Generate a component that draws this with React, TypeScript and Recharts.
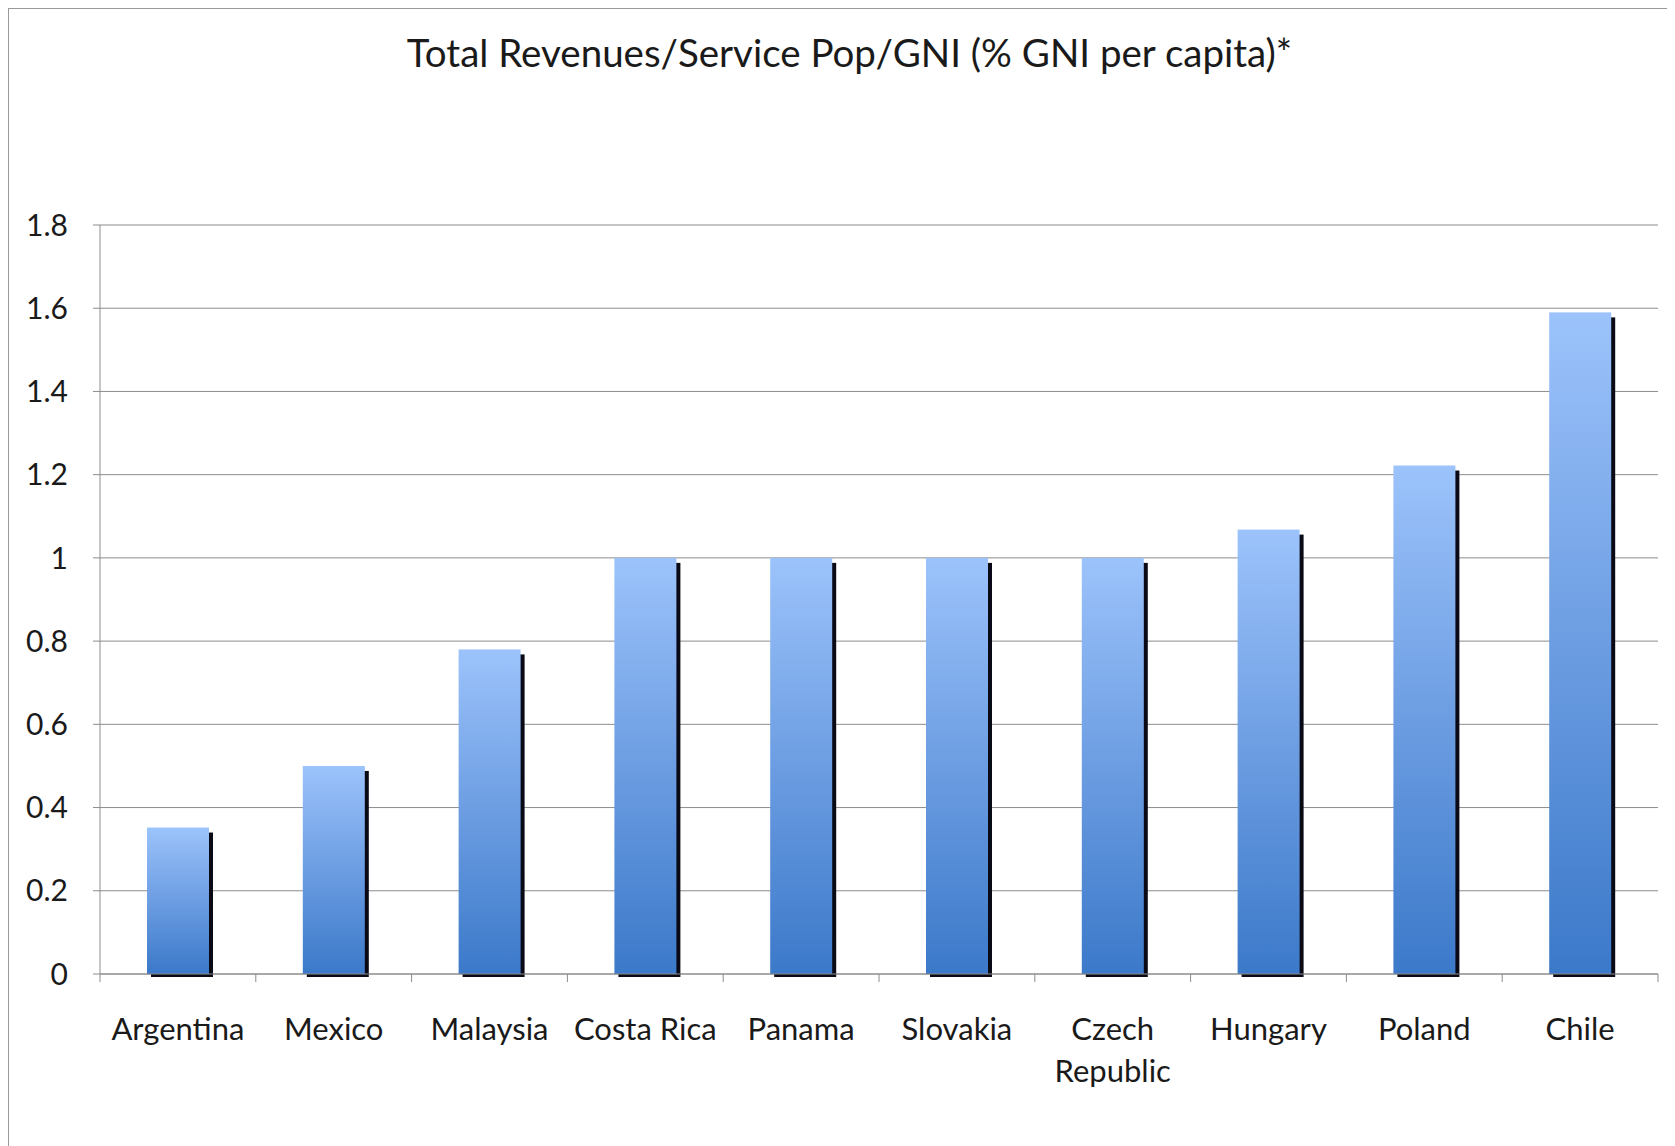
import React from 'react';
import { BarChart, Bar, XAxis, YAxis, CartesianGrid } from 'recharts';

const categories = ['Argentina', 'Mexico', 'Malaysia', 'Costa Rica', 'Panama', 'Slovakia', 'Czech Republic', 'Hungary', 'Poland', 'Chile'];
const values = [0.352, 0.5, 0.78, 1.0, 1.0, 1.0, 1.0, 1.068, 1.222, 1.59];
const labelLines: Record<string, string[]> = {
  'Czech Republic': ['Czech', 'Republic'],
};
const yTicks = [0, 0.2, 0.4, 0.6, 0.8, 1, 1.2, 1.4, 1.6, 1.8];
const title = 'Total Revenues/Service Pop/GNI (% GNI per capita)*';

const data = categories.map((c, i) => ({ name: c, value: values[i] }));

const W = 1666;
const H = 1137;
const X_H = 172;
const M = { top: 216, right: 17, bottom: 0, left: 0 };
const Y_W = 91;
const FONT = 'Lato, "Open Sans", sans-serif';
const GRID = '#8c8c8c';

const ShadowBar = (props: any) => {
  const { x, y, width, height } = props;
  if (height == null || height <= 0) return null;
  return (
    <g>
      <rect x={x + 4} y={y + 5} width={width} height={height - 2} fill="#0a0a16" />
      <rect x={x} y={y} width={width} height={height} fill="url(#barGrad)" />
    </g>
  );
};

const XTick = (props: any) => {
  const { x, y, payload, index, visibleTicksCount } = props;
  const plotW = W - Y_W - M.left - M.right;
  const band = plotW / categories.length;
  const lines = labelLines[payload.value] || [payload.value];
  const isLast = index === (visibleTicksCount ?? categories.length) - 1;
  return (
    <g>
      <line x1={x - band / 2} x2={x - band / 2} y1={y - 8} y2={y} stroke={GRID} strokeWidth={1} />
      {isLast && <line x1={x + band / 2} x2={x + band / 2} y1={y - 8} y2={y} stroke={GRID} strokeWidth={1} />}
      <text x={x} y={y + 58} textAnchor="middle" fontFamily={FONT} fontSize={31} fill="#1a1a1a">
        {lines.map((l: string, i: number) => (
          <tspan key={i} x={x} dy={i === 0 ? 0 : 42}>{l}</tspan>
        ))}
      </text>
    </g>
  );
};

export default function App() {
  return (
    <div
      style={{
        position: 'relative',
        width: W,
        height: H,
        borderLeft: '1px solid #999',
        borderTop: '1px solid #999',
        background: '#fff',
      }}
    >
      <div
        style={{
          position: 'absolute',
          left: 0,
          top: 20,
          width: W + 15,
          textAlign: 'center',
          fontFamily: FONT,
          fontSize: 38.5,
          color: '#1a1a1a',
          whiteSpace: 'nowrap',
        }}
      >
        {title}
      </div>
      <BarChart width={W} height={H} data={data} margin={M} barSize={62}>
        <defs>
          <linearGradient id="barGrad" x1="0" y1="0" x2="0" y2="1">
            <stop offset="0%" stopColor="#9CC3FB" />
            <stop offset="50%" stopColor="#6C9DE2" />
            <stop offset="100%" stopColor="#3B79C9" />
          </linearGradient>
        </defs>
        <CartesianGrid vertical={false} stroke={GRID} strokeWidth={1} />
        <XAxis
          dataKey="name"
          axisLine={{ stroke: GRID, strokeWidth: 1 }}
          tickLine={false}
          tick={<XTick />}
          interval={0}
          height={X_H}
        />
        <YAxis
          width={Y_W}
          domain={[0, 1.8]}
          ticks={yTicks}
          axisLine={{ stroke: GRID, strokeWidth: 1 }}
          tickLine={{ stroke: GRID, strokeWidth: 1 }}
          tickSize={7}
          tickMargin={25}
          tick={{ fontFamily: FONT, fontSize: 30, fill: '#1a1a1a' }}
          tickFormatter={(v: number) => String(v)}
        />
        <Bar dataKey="value" shape={<ShadowBar />} isAnimationActive={false} />
      </BarChart>
    </div>
  );
}
